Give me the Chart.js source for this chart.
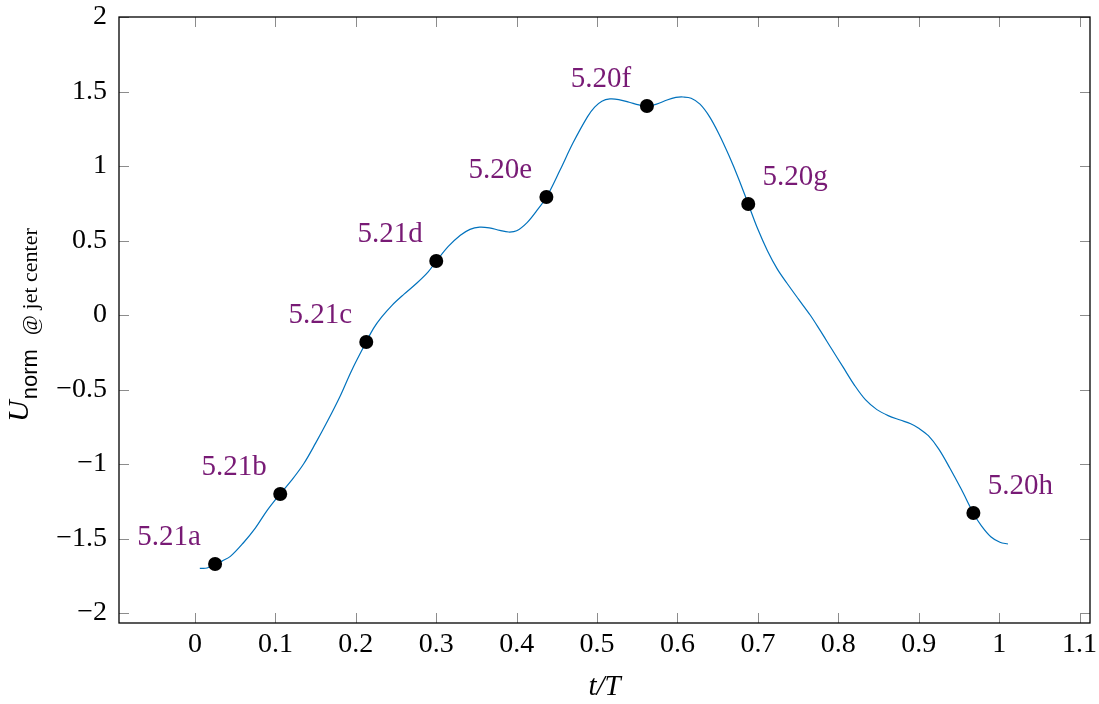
<!DOCTYPE html>
<html><head><meta charset="utf-8">
<script src="https://cdn.jsdelivr.net/npm/chart.js@4/dist/chart.umd.min.js"></script>
<style>html,body{margin:0;padding:0;background:#fff}#wrap{width:1099px;height:704px;position:relative}</style>
</head><body><div id="wrap"><canvas id="c" width="1099" height="704"></canvas></div>
<script>
const curveT = [0.006, 0.015, 0.025, 0.034, 0.044, 0.060, 0.075, 0.090, 0.106, 0.120, 0.135, 0.150, 0.165, 0.180, 0.195, 0.213, 0.222, 0.232, 0.245, 0.260, 0.276, 0.290, 0.300, 0.315, 0.330, 0.342, 0.354, 0.366, 0.379, 0.390, 0.400, 0.413, 0.425, 0.437, 0.454, 0.470, 0.488, 0.497, 0.506, 0.516, 0.527, 0.540, 0.552, 0.562, 0.574, 0.587, 0.598, 0.607, 0.617, 0.628, 0.640, 0.652, 0.664, 0.676, 0.688, 0.700, 0.712, 0.724, 0.736, 0.750, 0.765, 0.777, 0.792, 0.806, 0.820, 0.834, 0.848, 0.862, 0.877, 0.890, 0.900, 0.912, 0.925, 0.939, 0.953, 0.968, 0.978, 0.990, 1.001, 1.011];
const curveU = [-1.700, -1.698, -1.675, -1.650, -1.620, -1.530, -1.430, -1.310, -1.200, -1.110, -1.000, -0.860, -0.710, -0.550, -0.370, -0.180, -0.090, -0.015, 0.065, 0.140, 0.215, 0.290, 0.360, 0.460, 0.535, 0.575, 0.590, 0.585, 0.568, 0.557, 0.565, 0.620, 0.700, 0.790, 0.973, 1.154, 1.330, 1.395, 1.435, 1.450, 1.446, 1.428, 1.410, 1.400, 1.415, 1.443, 1.460, 1.463, 1.455, 1.415, 1.330, 1.210, 1.070, 0.915, 0.745, 0.575, 0.430, 0.310, 0.215, 0.110, 0.000, -0.100, -0.230, -0.350, -0.470, -0.570, -0.635, -0.675, -0.705, -0.730, -0.760, -0.810, -0.900, -1.030, -1.170, -1.330, -1.415, -1.490, -1.525, -1.537];
const pointT = [0.025, 0.106, 0.213, 0.300, 0.437, 0.562, 0.688, 0.968];
const pointU = [-1.671, -1.201, -0.181, 0.362, 0.792, 1.403, 0.745, -1.329];
const pointLabels = ['5.21a', '5.21b', '5.21c', '5.21d', '5.20e', '5.20f', '5.20g', '5.20h'];
const labelSide = ['left', 'left', 'left', 'left', 'left', 'left', 'right', 'right'];
const xTicks = [0, 0.1, 0.2, 0.3, 0.4, 0.5, 0.6, 0.7, 0.8, 0.9, 1, 1.1];
const yTicks = [-2, -1.5, -1, -0.5, 0, 0.5, 1, 1.5, 2];
const xRange = [-0.0945, 1.113];
const yRange = [-2.067, 2];

const SERIF = '"Liberation Serif", "Times New Roman", serif';
const SANS = '"Liberation Sans", Arial, sans-serif';
const fmt = v => (v < 0 ? '\u2212' : '') + String(Math.abs(v));

const framePlugin = {
  id: 'frame',
  afterDatasetsDraw(chart) {
    const {ctx, chartArea: a, scales} = chart;
    ctx.save();
    ctx.strokeStyle = '#8c8c8c';
    ctx.lineWidth = 1;
    const L = 10;
    ctx.beginPath();
    xTicks.forEach(v => {
      const px = Math.round(scales.x.getPixelForValue(v)) + 0.5;
      ctx.moveTo(px, a.bottom); ctx.lineTo(px, a.bottom - L);
      ctx.moveTo(px, a.top); ctx.lineTo(px, a.top + L);
    });
    yTicks.forEach(v => {
      const py = Math.round(scales.y.getPixelForValue(v)) + 0.5;
      ctx.moveTo(a.left, py); ctx.lineTo(a.left + L, py);
      ctx.moveTo(a.right, py); ctx.lineTo(a.right - L, py);
    });
    ctx.stroke();
    ctx.strokeStyle = '#000';
    ctx.lineWidth = 1.3;
    ctx.strokeRect(a.left, a.top, a.right - a.left, a.bottom - a.top);
    ctx.restore();
  },
  afterDraw(chart) {
    const {ctx, chartArea: a} = chart;
    const meta = chart.getDatasetMeta(0);
    ctx.save();
    ctx.fillStyle = '#781a75';
    ctx.font = '29px ' + SERIF;
    ctx.textAlign = 'center';
    ctx.textBaseline = 'middle';
    meta.data.forEach((el, i) => {
      const dx = labelSide[i] === 'left' ? -46 : 47;
      ctx.fillText(pointLabels[i], el.x + dx, el.y - 27);
    });
    // x title
    ctx.fillStyle = '#000';
    ctx.font = 'italic 29px ' + SERIF;
    ctx.textAlign = 'center';
    ctx.textBaseline = 'alphabetic';
    ctx.fillText('t/T', (a.left + a.right) / 2, 695);
    // y title
    ctx.translate(28, 422);
    ctx.rotate(-Math.PI / 2);
    ctx.textAlign = 'left';
    ctx.font = 'italic 30px ' + SERIF;
    ctx.fillText('U', 0, 0);
    let w = ctx.measureText('U').width;
    ctx.font = '22px ' + SANS;
    ctx.fillText('norm', w + 1, 9);
    w += 1 + ctx.measureText('norm').width + 14;
    ctx.font = '22px ' + SERIF;
    ctx.fillText('@ jet center', w, 9);
    ctx.restore();
  }
};

new Chart(document.getElementById('c'), {
  type: 'scatter',
  data: {
    datasets: [
      {
        data: pointT.map((t, i) => ({x: t, y: pointU[i]})),
        pointRadius: 7, pointHoverRadius: 7,
        backgroundColor: '#000', borderColor: '#000', borderWidth: 0,
        showLine: false
      },
      {
        data: curveT.map((t, i) => ({x: t, y: curveU[i]})),
        showLine: true, pointRadius: 0, borderColor: '#0072bd', borderWidth: 1.2,
        tension: 0.35, fill: false
      }
    ]
  },
  options: {
    responsive: false, animation: false,
    layout: {padding: {left: 0, top: 17, right: 9, bottom: 0}},
    plugins: {legend: {display: false}, tooltip: {enabled: false}},
    scales: {
      x: {
        type: 'linear', min: xRange[0], max: xRange[1],
        afterBuildTicks: s => { s.ticks = xTicks.map(v => ({value: v})); },
        afterFit: s => { s.height = 81; s.paddingLeft = 0; s.paddingRight = 0; },
        grid: {display: false, drawTicks: false},
        border: {display: false},
        ticks: {font: {family: SERIF, size: 28}, color: '#000', padding: 5, maxRotation: 0, autoSkip: false, callback: fmt}
      },
      y: {
        type: 'linear', min: yRange[0], max: yRange[1],
        afterBuildTicks: s => { s.ticks = yTicks.map(v => ({value: v})); },
        afterFit: s => { s.width = 119; s.paddingTop = 0; s.paddingBottom = 0; },
        grid: {display: false, drawTicks: false},
        border: {display: false},
        ticks: {font: {family: SERIF, size: 28}, color: '#000', padding: 12, autoSkip: false, callback: fmt}
      }
    }
  },
  plugins: [framePlugin]
});
</script></body></html>
